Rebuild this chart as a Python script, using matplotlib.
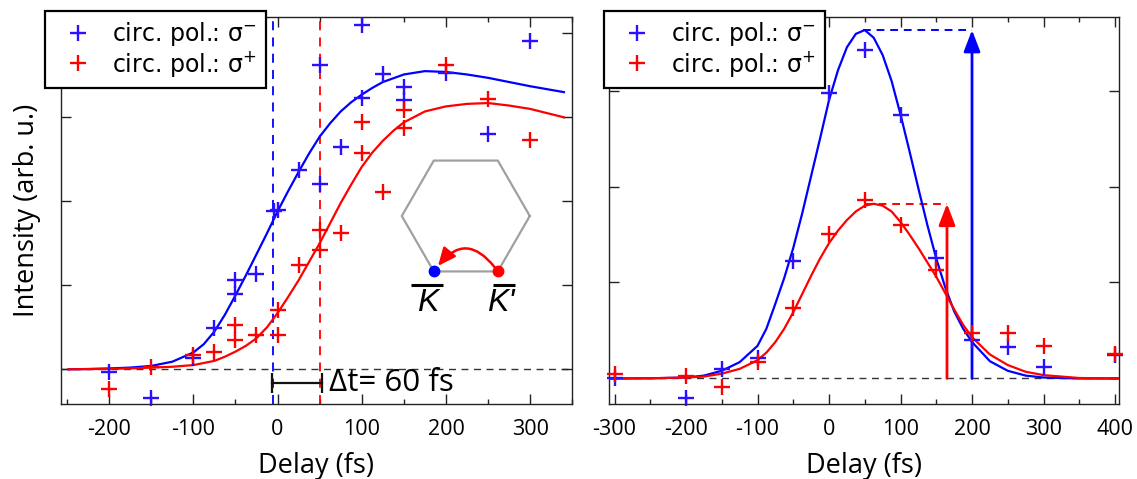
import numpy as np
import matplotlib
matplotlib.use('Agg')
import matplotlib.pyplot as plt
from matplotlib.ticker import MultipleLocator, FixedLocator
from matplotlib.patches import FancyArrowPatch, ArrowStyle

plt.rcParams['font.family'] = ['Open Sans', 'DejaVu Sans']
plt.rcParams['mathtext.fontset'] = 'dejavusans'
plt.rcParams['axes.unicode_minus'] = False

BLUE = '#0000ff'
RED = '#ff0000'
BLUE_PT = '#2a10ff'

# ---- left panel: measured points ----
left_blue_t = [-200, -150, -100, -75, -50, -50, -25, -4, 0, 25, 50, 50, 75, 100, 100, 125, 150, 150, 200, 250, 300]
left_blue_i = [-0.03, -0.34, 0.13, 0.49, 1.06, 0.90, 1.14, 1.88, 1.90, 2.37, 2.21, 3.62, 2.65, 4.10, 3.23, 3.51, 3.36, 3.21, 3.53, 2.80, 3.91]
left_red_t = [-200, -150, -100, -75, -50, -50, -25, 0, 0, 25, 50, 50, 75, 100, 100, 125, 150, 150, 200, 250, 300]
left_red_i = [-0.24, 0.03, 0.17, 0.21, 0.53, 0.35, 0.41, 0.41, 0.71, 1.24, 1.66, 1.42, 1.62, 2.95, 2.57, 2.11, 3.09, 2.87, 3.62, 3.22, 2.73]

# left panel: fitted curves
fit_blue_t = [-248, -225, -200, -175, -150, -125, -100, -87.5, -75, -62.5, -50, -37.5, -25, -12.5, 0,
              12.5, 25, 37.5, 50, 62.5, 75, 87.5, 100, 112.5, 125, 150, 175, 200, 225, 250, 275, 300, 340]
fit_blue_i = [0.0, 0.003, 0.01, 0.02, 0.04, 0.09, 0.20, 0.30, 0.45, 0.65, 0.88, 1.12, 1.37, 1.62, 1.88,
              2.12, 2.35, 2.57, 2.77, 2.93, 3.07, 3.18, 3.27, 3.35, 3.42, 3.51, 3.55, 3.54, 3.51, 3.47, 3.42, 3.37, 3.30]
fit_red_t = [-248, -200, -175, -150, -125, -100, -75, -62.5, -50, -37.5, -25, -12.5, 0, 12.5, 25, 37.5,
             50, 62.5, 75, 87.5, 100, 112.5, 125, 137.5, 150, 175, 200, 225, 250, 275, 300, 340]
fit_red_i = [0.0, 0.005, 0.01, 0.02, 0.03, 0.05, 0.10, 0.15, 0.21, 0.28, 0.37, 0.50, 0.67, 0.86, 1.06, 1.28,
             1.50, 1.74, 1.98, 2.20, 2.41, 2.58, 2.72, 2.84, 2.94, 3.07, 3.13, 3.16, 3.17, 3.14, 3.10, 3.00]

t0_blue = -5      # vertical marker of the sigma- rise
t0_red = 50       # vertical marker of the sigma+ rise
dt_bar = (-7, 53)
dt_y = -0.167
dt_text = 'Δt= 60 fs'

# ---- right panel: measured points ----
right_t = [-300, -200, -150, -100, -50, 0, 50, 100, 150, 200, 250, 300, 400]
right_blue_i = [0.0, -0.20, 0.10, 0.21, 1.22, 2.97, 3.42, 2.74, 1.25, 0.40, 0.33, 0.12, 0.24]
right_red_i = [0.05, 0.03, -0.09, 0.17, 0.73, 1.51, 1.86, 1.60, 1.13, 0.47, 0.47, 0.34, 0.25]

gauss_t = [-307, -250, -200, -175, -150, -125, -100, -87.5, -75, -62.5, -50, -37.5, -25, -12.5, 0, 12.5,
           25, 37.5, 50, 62.5, 75, 87.5, 100, 112.5, 125, 137.5, 150, 162.5, 175, 187.5, 200, 225, 250,
           275, 300, 350, 406]
gauss_blue_i = [0, 0.002, 0.01, 0.03, 0.08, 0.17, 0.34, 0.52, 0.78, 1.05, 1.36, 1.72, 2.11, 2.50, 2.90, 3.21,
                3.45, 3.59, 3.63, 3.55, 3.37, 3.10, 2.75, 2.37, 1.98, 1.60, 1.25, 0.95, 0.70, 0.52, 0.38, 0.18,
                0.08, 0.03, 0.01, 0.0, 0.0]
gauss_red_i = [0, 0.002, 0.01, 0.02, 0.05, 0.10, 0.19, 0.27, 0.38, 0.52, 0.69, 0.88, 1.07, 1.25, 1.41, 1.54,
               1.65, 1.74, 1.80, 1.82, 1.80, 1.74, 1.63, 1.50, 1.36, 1.21, 1.06, 0.89, 0.72, 0.56, 0.43, 0.25,
               0.14, 0.07, 0.035, 0.005, 0.0]

peak_blue = (48, 3.63)
peak_red = (50, 1.82)
arrow_blue_t = 200
arrow_red_t = 165

labels = ['circ. pol.: σ$^{-}$', 'circ. pol.: σ$^{+}$']

W, H = 1137, 479
fig = plt.figure(figsize=(W / 100, H / 100), dpi=100)


def px_axes(l, t, r, b):
    return fig.add_axes([l / W, 1 - b / H, (r - l) / W, (b - t) / H])


def style_axes(ax, xmaj):
    ax.xaxis.set_major_locator(FixedLocator(xmaj))
    ax.xaxis.set_minor_locator(MultipleLocator(50))
    ax.set_xticklabels([str(v) for v in xmaj])
    ax.tick_params(which='both', direction='in', top=True, right=True, width=1.0, color='#222222')
    ax.tick_params(which='major', length=7.5)
    ax.tick_params(which='minor', length=3.8)
    ax.tick_params(axis='x', labelsize=15.5, pad=10.5)
    ax.tick_params(axis='y', labelleft=False)
    for s in ax.spines.values():
        s.set_linewidth(1.0)
        s.set_color('#222222')
    ax.set_xlabel('Delay (fs)', fontsize=19.5, labelpad=9)
    ax.axhline(0, color='#333333', lw=1.0, ls=(0, (5, 4)), zorder=1)


def add_legend(ax, left_px):
    leg = ax.legend(labels, loc='upper left', bbox_to_anchor=(left_px / W, 1 - 10.7 / H),
                    bbox_transform=fig.transFigure, borderaxespad=0,
                    prop={'family': 'DejaVu Sans', 'size': 17},
                    frameon=True, fancybox=False, edgecolor='black', framealpha=1,
                    handlelength=1.97, handletextpad=0.46, borderpad=0.4, labelspacing=0.02,
                    numpoints=1)
    leg.get_frame().set_linewidth(1.6)
    leg.set_zorder(10)
    return leg


cross = dict(marker='+', ms=12, mew=1.7, ls='none', clip_on=False, zorder=4)

# ---------------- left panel ----------------
ax1 = px_axes(60.7, 16.7, 572.3, 404.3)
ax1.plot(left_blue_t, left_blue_i, color=BLUE_PT, **cross)
ax1.plot(left_red_t, left_red_i, color=RED, **cross)
ax1.plot(fit_blue_t, fit_blue_i, color=BLUE, lw=1.6, zorder=3)
ax1.plot(fit_red_t, fit_red_i, color=RED, lw=1.6, zorder=3)
ax1.axvline(t0_blue, color=BLUE, lw=1.3, ls=(0, (5, 4)), zorder=2)
ax1.axvline(t0_red, color=RED, lw=1.3, ls=(0, (5, 4)), zorder=2)
ax1.plot(dt_bar, [dt_y, dt_y], color='#111111', lw=1.6)
ax1.vlines(dt_bar, dt_y - 0.12, dt_y + 0.12, color='#111111', lw=1.6)
ax1.text(dt_bar[1] + 8, dt_y, dt_text, fontsize=22.5, va='center', ha='left')
ax1.set_xlim(-257.5, 350)
ax1.set_ylim(-0.417, 4.198)
ax1.yaxis.set_major_locator(FixedLocator([0, 1, 2, 3, 4]))
style_axes(ax1, [-200, -100, 0, 100, 200, 300])
ax1.set_ylabel('Intensity (arb. u.)', fontsize=19.5, labelpad=14)
add_legend(ax1, 45)

# Brillouin-zone sketch
axh = px_axes(385.8, 136, 545.8, 336)
ang = np.deg2rad(np.arange(0, 420, 60))
axh.plot(np.cos(ang), np.sin(ang), color='#a0a0a0', lw=1.6)
k_pt = (-0.5, -np.sqrt(3) / 2)
kp_pt = (0.5, -np.sqrt(3) / 2)
axh.add_patch(FancyArrowPatch(kp_pt, k_pt, connectionstyle='arc3,rad=0.7',
                              arrowstyle=ArrowStyle('-|>', head_length=0.9, head_width=0.4),
                              mutation_scale=12, color=RED, lw=1.8, shrinkA=4, shrinkB=5, zorder=3))
axh.plot(*k_pt, 'o', color=BLUE, ms=7.5, zorder=4)
axh.plot(*kp_pt, 'o', color=RED, ms=7.5, zorder=4)
kfont = dict(fontsize=23, ha='center', va='center', style='italic', family='Liberation Sans')
axh.text(-0.60, -1.36, 'K', **kfont)
axh.text(0.55, -1.36, "K'", **kfont)
axh.plot([-0.86, -0.36], [-1.08, -1.08], color='black', lw=2.2, solid_capstyle='butt')
axh.plot([0.42, 0.77], [-1.08, -1.08], color='black', lw=2.2, solid_capstyle='butt')
axh.set_xlim(-1.25, 1.25)
axh.set_ylim(-1.875, 1.25)
axh.axis('off')

# ---------------- right panel ----------------
ax2 = px_axes(609.3, 16.7, 1119.3, 404.3)
ax2.plot(right_t, right_blue_i, color=BLUE_PT, **cross)
ax2.plot(right_t, right_red_i, color=RED, **cross)
ax2.plot(gauss_t, gauss_blue_i, color=BLUE, lw=1.6, zorder=3)
ax2.plot(gauss_t, gauss_red_i, color=RED, lw=1.6, zorder=3)
ax2.plot([peak_blue[0], arrow_blue_t], [peak_blue[1]] * 2, color=BLUE, lw=1.4, ls=(0, (4, 3)))
ax2.plot([peak_red[0], arrow_red_t], [peak_red[1]] * 2, color=RED, lw=1.4, ls=(0, (4, 3)))
for t, top, c in [(arrow_blue_t, peak_blue[1], BLUE), (arrow_red_t, peak_red[1], RED)]:
    ax2.annotate('', xy=(t, top), xytext=(t, 0),
                 arrowprops=dict(arrowstyle=ArrowStyle('-|>', head_length=1.3, head_width=0.5),
                                 mutation_scale=10, color=c, lw=2.0, shrinkA=0, shrinkB=0))
ax2.set_xlim(-307.3, 406)
ax2.set_ylim(-0.269, 3.769)
ax2.yaxis.set_major_locator(FixedLocator([0, 1, 2, 3]))
style_axes(ax2, [-300, -200, -100, 0, 100, 200, 300, 400])
add_legend(ax2, 604)

fig.savefig('out.png', dpi=100)
